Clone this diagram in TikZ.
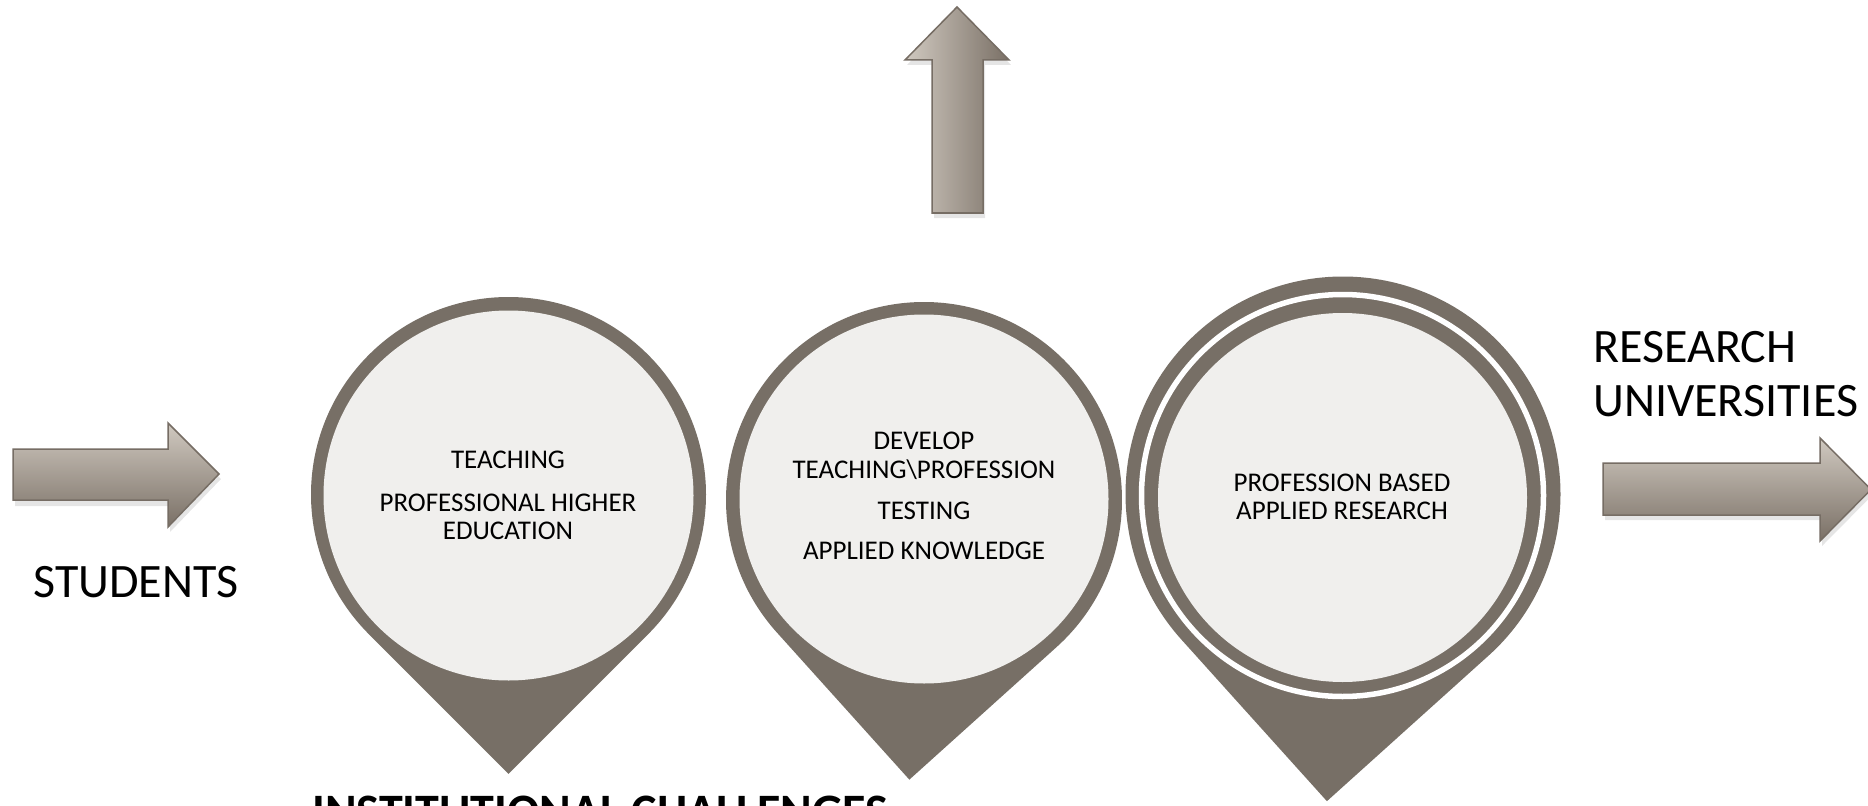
\documentclass[tikz,border=0pt]{standalone}
\usepackage{fontspec}
\setmainfont{Carlito}
\definecolor{pincol}{RGB}{119,111,102}
\definecolor{innercol}{RGB}{240,239,237}
\definecolor{arrowlight}{RGB}{208,201,192}
\definecolor{arrowdark}{RGB}{122,112,102}
\definecolor{arrowline}{RGB}{118,109,100}
\tikzset{
  blockarrow/.style={draw=arrowline, line width=0.75pt, line join=miter},
  hgrad/.style={top color=arrowlight, bottom color=arrowdark},
  vgrad/.style={left color=arrowlight, right color=arrowdark},
  softshadow/.style={fill=black, opacity=0.10},
  bigtext/.style={font=\fontsize{24}{27}\selectfont, inner sep=0pt, anchor=base west},
  boldtext/.style={font=\fontsize{24}{27}\selectfont\bfseries, inner sep=0pt, anchor=base west},
  smalltext/.style={font=\fontsize{13.5}{14}\selectfont, inner sep=0pt, anchor=base},
}
% pin: #1 x, #2 y, #3 radius, #4 axis angle, #5 colour
\newcommand\pinshape[5]{%
  \begin{scope}[shift={(#1,#2)}]
    \fill[#5] ({#4+45}:#3) arc[start angle={#4+45}, end angle={#4+315}, radius=#3]
      -- (#4:{#3*1.41421}) -- cycle;
  \end{scope}}
\begin{document}
\begin{tikzpicture}[x=0.5pt,y=0.5pt]
\useasboundingbox (0,0) rectangle (1868,805);
\clip (0,0) rectangle (1868,805);
\fill[white] (0,0) rectangle (1868,805);

% ---------- pins ----------
\pinshape{508.5}{310.5}{197.5}{-90}{pincol}
\fill[innercol] (508.5,309.5) circle[radius=185];

\pinshape{924}{305}{198}{-93}{pincol}
\fill[innercol] (924,306) circle[radius=184.5];

\pinshape{1343}{311}{221}{-93}{white}
\pinshape{1343}{311}{217.5}{-93}{pincol}
\draw[white, line width=2.75pt] (1342.5,309.5) circle[radius=201];
\fill[innercol] (1342.5,307.5) circle[radius=184.5];

% ---------- texts in pins ----------
\node[smalltext] (c1a) at (508,337) {TEACHING};
\node[smalltext] (c1b) at (508,294) {PROFESSIONAL HIGHER};
\node[smalltext] (c1c) at (508,266) {EDUCATION};

\node[smalltext] (c2a) at (924,356) {DEVELOP};
\node[smalltext] (c2b) at (924,327) {TEACHING\textbackslash PROFESSION};
\node[smalltext] (c2c) at (924,286) {TESTING};
\node[smalltext] (c2d) at (924,246) {APPLIED KNOWLEDGE};

\node[smalltext] (c3a) at (1342,314) {PROFESSION BASED};
\node[smalltext] (c3b) at (1342,286) {APPLIED RESEARCH};

% ---------- block arrows ----------
% left arrow
\fill[softshadow] (15,351) -- (170,351) -- (170,377) -- (221,326) -- (170,273) -- (170,299) -- (15,299) -- cycle;
\shade[hgrad, blockarrow] (13,356) -- (168,356) -- (168,382) -- (219,331) -- (168,278) -- (168,305) -- (13,305) -- cycle;
% right arrow
\fill[softshadow] (1605,337) -- (1822,337) -- (1822,362) -- (1873,310.5) -- (1822,259) -- (1822,285) -- (1605,285) -- cycle;
\shade[hgrad, blockarrow] (1603,342) -- (1820,342) -- (1820,367) -- (1871,315.5) -- (1820,264) -- (1820,290) -- (1603,290) -- cycle;
% up arrow
\fill[softshadow] (934,587) -- (934,740) -- (907,740) -- (959,793) -- (1011,740) -- (985,740) -- (985,587) -- cycle;
\shade[vgrad, blockarrow] (932,592) -- (932,745) -- (905,745) -- (957,798) -- (1009,745) -- (983,745) -- (983,592) -- cycle;

% ---------- labels ----------
\node[bigtext] (students) at (33,208) {STUDENTS};
\node[bigtext] (research) at (1593,443) {RESEARCH};
\node[bigtext] (univ) at (1593,389) {UNIVERSITIES};
\node[boldtext] (chal) at (312,-22) {INSTITUTIONAL CHALLENGES};
\end{tikzpicture}
\end{document}
